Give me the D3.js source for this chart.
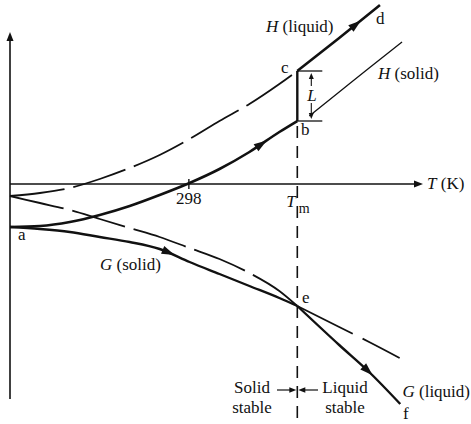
<!DOCTYPE html>
<html>
<head>
<meta charset="utf-8">
<script src="https://cdn.jsdelivr.net/npm/d3@7"></script>
<style>
  body { margin: 0; background: #fff; }
  text { font-family: "Liberation Serif", "DejaVu Serif", serif; font-size: 17px; fill: #111; }
</style>
</head>
<body>
<svg id="chart" width="471" height="424"></svg>
<script>
// Temperatures (K) and enthalpy / Gibbs energy (arbitrary units) of a pure substance
const roomT = 298;
const meltT = 480;

const tempBelow   = [0, 50, 100, 150, 200, 250, 300, 350, 400, 450, 480];
const hSolid      = [-4.3, -4.2, -3.8, -3.1, -2.2, -1.1, 0.1, 1.5, 3.2, 5.2, 6.3];
const hLiquid     = [-1.2, -0.9, -0.4, 0.5, 1.6, 2.9, 4.5, 6.3, 8.0, 10.0, 11.3];
const gSolid      = [-4.3, -4.5, -4.8, -5.3, -5.8, -6.5, -7.8, -9.0, -10.2, -11.4, -12.2];
const gLiquid     = [-1.2, -1.9, -2.6, -3.5, -4.4, -5.3, -6.4, -7.5, -8.9, -10.7, -12.2];

const tempHSolidAbove  = [500, 550, 600, 655];
const hSolidAbove      = [6.8, 9.2, 11.6, 14.2];
const tempHLiquidAbove = [480, 550, 618];
const hLiquidAbove     = [11.3, 14.6, 17.9];
const tempGSolidAbove  = [480, 550, 600, 651];
const gSolidAbove      = [-12.2, -14.3, -15.8, -17.4];
const tempGLiquidAbove = [480, 550, 600, 652];
const gLiquidAbove     = [-12.2, -16.1, -18.8, -22.0];

const xTickValues = [roomT];
const xTickLabels = ["298"];

const svg = d3.select("#chart");
const ink = "#111";

const x = d3.scaleLinear().domain([0, 690]).range([10, 423]);
const y = d3.scaleLinear().domain([-21.5, 15.2]).range([399, 32]);

const zip = (ts, vs) => ts.map((t, i) => [t, vs[i]]);
const line = d3.line().x(d => x(d[0])).y(d => y(d[1])).curve(d3.curveMonotoneX);

function arrowHead(g, tipX, tipY, angle, len = 12, half = 4) {
  const pts = [[0, 0], [-len, -half], [-len, half]];
  g.append("path")
    .attr("d", d3.line()(pts) + "Z")
    .attr("transform", `translate(${tipX},${tipY}) rotate(${angle * 180 / Math.PI})`)
    .attr("fill", ink);
}

// place an arrowhead on a drawn curve at a given temperature
function curveArrow(pathSel, t, len = 13, half = 4.2) {
  const node = pathSel.node();
  const total = node.getTotalLength();
  const target = x(t);
  let lo = 0, hi = total;
  for (let i = 0; i < 40; i++) {
    const mid = (lo + hi) / 2;
    if (node.getPointAtLength(mid).x < target) lo = mid; else hi = mid;
  }
  const p = node.getPointAtLength(lo);
  const q = node.getPointAtLength(Math.max(0, lo - 2));
  const ang = Math.atan2(p.y - q.y, p.x - q.x);
  arrowHead(svg, p.x + Math.cos(ang) * len / 2, p.y + Math.sin(ang) * len / 2, ang, len, half);
}

// axes
const axisX0 = x(0), axisY0 = y(0);
svg.append("line").attr("x1", axisX0).attr("x2", axisX0)
  .attr("y1", y(-21.5)).attr("y2", y(15.2) + 6)
  .attr("stroke", ink).attr("stroke-width", 1.6);
arrowHead(svg, axisX0, y(15.2), -Math.PI / 2, 9, 3.5);

svg.append("line").attr("x1", axisX0).attr("x2", x(690) - 6)
  .attr("y1", axisY0).attr("y2", axisY0)
  .attr("stroke", ink).attr("stroke-width", 1.6);
arrowHead(svg, x(690), axisY0, 0, 9, 3.5);

const xAxis = svg.append("g")
  .attr("transform", `translate(0,${axisY0})`)
  .call(d3.axisBottom(x).tickValues(xTickValues).tickSize(5).tickFormat((d, i) => xTickLabels[i]));
xAxis.select(".domain").remove();
xAxis.selectAll(".tick line").attr("y1", -5).attr("stroke", ink).attr("stroke-width", 1.4);
xAxis.selectAll(".tick text").attr("dy", null).attr("y", 20)
  .style("font-family", "Liberation Serif, serif").style("font-size", "17px").attr("fill", ink);

svg.append("text").attr("x", 427).attr("y", axisY0 + 5).html('<tspan font-style="italic">T</tspan> (K)');

// melting temperature marker
const xm = x(meltT);
const hSm = hSolid[hSolid.length - 1];
const hLm = hLiquid[hLiquid.length - 1];
svg.append("line").attr("x1", xm).attr("x2", xm)
  .attr("y1", y(hSm) + 5).attr("y2", y(-24))
  .attr("stroke", ink).attr("stroke-width", 1.6).attr("stroke-dasharray", "12,8");
const tmLabel = svg.append("text").attr("x", xm - 11).attr("y", 207);
tmLabel.append("tspan").attr("font-style", "italic").text("T");
tmLabel.append("tspan").attr("dx", 3).attr("dy", 6).style("font-size", "14px").text("m");

// enthalpy curves
svg.append("path").attr("d", line(zip(tempBelow, hLiquid)))
  .attr("fill", "none").attr("stroke", ink).attr("stroke-width", 1.8).attr("stroke-dasharray", "55,9");
const hSolidPath = svg.append("path").attr("d", line(zip(tempBelow, hSolid)))
  .attr("fill", "none").attr("stroke", ink).attr("stroke-width", 2.6);
curveArrow(hSolidPath, 420);
const hLiquidPath = svg.append("path").attr("d", line(zip(tempHLiquidAbove, hLiquidAbove)))
  .attr("fill", "none").attr("stroke", ink).attr("stroke-width", 2.6);
curveArrow(hLiquidPath, 578);
svg.append("path").attr("d", line(zip(tempHSolidAbove, hSolidAbove)))
  .attr("fill", "none").attr("stroke", ink).attr("stroke-width", 1.3);

// latent heat jump at the melting point
svg.append("line").attr("x1", xm).attr("x2", xm).attr("y1", y(hLm)).attr("y2", y(hSm))
  .attr("stroke", ink).attr("stroke-width", 2.4);
[hLm, hSm].forEach(v => {
  svg.append("line").attr("x1", xm).attr("x2", xm + 25).attr("y1", y(v)).attr("y2", y(v))
    .attr("stroke", ink).attr("stroke-width", 1.3);
});
const xl = xm + 14;
const yMid = (y(hLm) + y(hSm)) / 2;
svg.append("line").attr("x1", xl).attr("x2", xl).attr("y1", y(hLm) + 6).attr("y2", yMid - 10)
  .attr("stroke", ink).attr("stroke-width", 1.1);
svg.append("line").attr("x1", xl).attr("x2", xl).attr("y1", yMid + 7).attr("y2", y(hSm) - 6)
  .attr("stroke", ink).attr("stroke-width", 1.1);
arrowHead(svg, xl, y(hLm) + 2, -Math.PI / 2, 6, 2.5);
arrowHead(svg, xl, y(hSm) - 2, Math.PI / 2, 6, 2.5);
svg.append("text").attr("x", xl - 4).attr("y", yMid + 5).attr("font-style", "italic").text("L");

// Gibbs energy curves
svg.append("path").attr("d", line(zip(tempBelow, gLiquid)))
  .attr("fill", "none").attr("stroke", ink).attr("stroke-width", 1.8).attr("stroke-dasharray", "55,9");
const gSolidPath = svg.append("path").attr("d", line(zip(tempBelow, gSolid)))
  .attr("fill", "none").attr("stroke", ink).attr("stroke-width", 2.4);
curveArrow(gSolidPath, 265);
svg.append("path").attr("d", line(zip(tempGSolidAbove, gSolidAbove)))
  .attr("fill", "none").attr("stroke", ink).attr("stroke-width", 1.8).attr("stroke-dasharray", "62,11");
const gLiquidPath = svg.append("path").attr("d", line(zip(tempGLiquidAbove, gLiquidAbove)))
  .attr("fill", "none").attr("stroke", ink).attr("stroke-width", 2.4);
curveArrow(gLiquidPath, 598);

// labels
svg.append("text").attr("x", 266).attr("y", 32).html('<tspan font-style="italic">H</tspan> (liquid)');
svg.append("text").attr("x", 376).attr("y", 24).text("d");
svg.append("text").attr("x", 378).attr("y", 79).html('<tspan font-style="italic">H</tspan> (solid)');
svg.append("text").attr("x", 281).attr("y", 73).text("c");
svg.append("text").attr("x", 301).attr("y", 135).text("b");
svg.append("text").attr("x", 18).attr("y", 240).text("a");
svg.append("text").attr("x", 100).attr("y", 270).html('<tspan font-style="italic">G</tspan> (solid)');
svg.append("text").attr("x", 302).attr("y", 303).text("e");
svg.append("text").attr("x", 470).attr("y", 397).attr("text-anchor", "end").html('<tspan font-style="italic">G</tspan> (liquid)');
svg.append("text").attr("x", 403).attr("y", 419).text("f");

// stability regions either side of the melting point
[["Solid", 252, 393], ["stable", 252, 413], ["Liquid", 345, 393], ["stable", 345, 413]].forEach(([t, cx, by]) => {
  svg.append("text").attr("x", cx).attr("y", by).attr("text-anchor", "middle").text(t);
});
const ya = 390;
svg.append("line").attr("x1", 277).attr("x2", xm - 4).attr("y1", ya).attr("y2", ya).attr("stroke", ink).attr("stroke-width", 1.2);
arrowHead(svg, xm - 1, ya, 0, 7, 2.8);
svg.append("line").attr("x1", xm + 4).attr("x2", 318).attr("y1", ya).attr("y2", ya).attr("stroke", ink).attr("stroke-width", 1.2);
arrowHead(svg, xm + 1, ya, Math.PI, 7, 2.8);
</script>
</body>
</html>
